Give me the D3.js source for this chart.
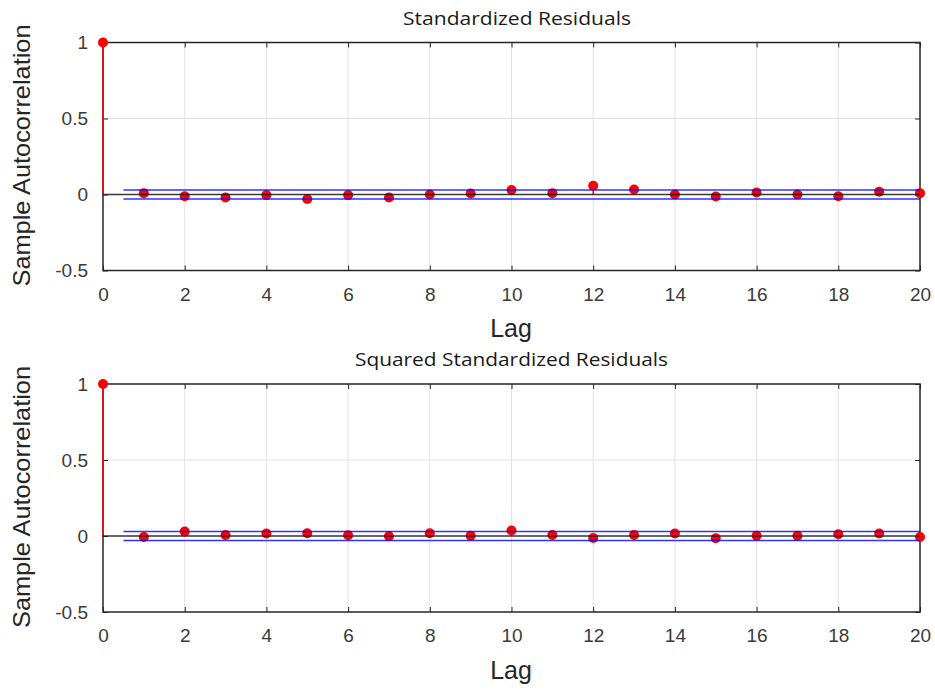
<!DOCTYPE html>
<html>
<head>
<meta charset="utf-8">
<script src="https://cdn.jsdelivr.net/npm/d3@7"></script>
<style>
  body { margin: 0; background: #fff; }
</style>
</head>
<body>
<div id="chart"></div>
<script>
// sample autocorrelation values, lag 0..20
const lags = d3.range(0, 21);
const acfResiduals = [1, 0.009, -0.011, -0.02, -0.004, -0.03, -0.004, -0.02, 0.0, 0.007,
  0.03, 0.009, 0.057, 0.033, 0.0, -0.013, 0.013, 0.0, -0.011, 0.018, 0.009];
const acfSquared = [1, -0.007, 0.029, 0.007, 0.016, 0.018, 0.005, -0.002, 0.018, 0.002,
  0.036, 0.007, -0.013, 0.007, 0.016, -0.015, 0.002, 0.002, 0.011, 0.016, -0.007];
const bounds = [0.03, 0.029];
const titles = ["Standardized Residuals", "Squared Standardized Residuals"];
const xTicks = d3.range(0, 21, 2);
const yTicks = [-0.5, 0, 0.5, 1];

const W = 935, H = 690;
const svg = d3.select("#chart").append("svg").attr("width", W).attr("height", H);
const arial = "Liberation Sans, Arial, sans-serif";

function acfPanel(values, bound, title, top, titleX, titleLen) {
  const dims = {l: 103, r: 920, t: top, b: top + 228};
  const x = d3.scaleLinear().domain([0, 20]).range([dims.l, dims.r]);
  const y = d3.scaleLinear().domain([-0.5, 1]).range([dims.b, dims.t]);
  const g = svg.append("g");

  // grid
  g.append("g").selectAll("line").data(xTicks.slice(1, -1)).enter().append("line")
    .attr("x1", d => x(d)).attr("x2", d => x(d))
    .attr("y1", dims.t).attr("y2", dims.b)
    .attr("stroke", "#e3e3e3").attr("stroke-width", 1);
  g.append("g").selectAll("line").data(yTicks.slice(1, -1)).enter().append("line")
    .attr("x1", dims.l).attr("x2", dims.r)
    .attr("y1", d => y(d)).attr("y2", d => y(d))
    .attr("stroke", "#e3e3e3").attr("stroke-width", 1);

  // axes, ticks inside the box
  const fmt = d => String(d);
  g.append("g").attr("transform", "translate(0," + dims.b + ")")
    .call(d3.axisBottom(x).tickValues(xTicks).tickSizeInner(-5).tickSizeOuter(0).tickPadding(17).tickFormat(fmt))
    .call(a => a.select(".domain").remove());
  g.append("g").attr("transform", "translate(0," + dims.t + ")")
    .call(d3.axisTop(x).tickValues(xTicks).tickSizeInner(-5).tickSizeOuter(0).tickFormat(""))
    .call(a => a.select(".domain").remove());
  g.append("g").attr("transform", "translate(" + dims.l + ",0)")
    .call(d3.axisLeft(y).tickValues(yTicks).tickSizeInner(-5).tickSizeOuter(0).tickPadding(15).tickFormat(fmt))
    .call(a => a.select(".domain").remove());
  g.append("g").attr("transform", "translate(" + dims.r + ",0)")
    .call(d3.axisRight(y).tickValues(yTicks).tickSizeInner(-5).tickSizeOuter(0).tickFormat(""))
    .call(a => a.select(".domain").remove());
  g.selectAll(".tick line").attr("stroke", "#262626");
  g.selectAll(".tick text").attr("font-family", arial)
    .attr("font-size", 19).attr("fill", "#3a3a3a");

  // box
  g.append("rect").attr("x", dims.l).attr("y", dims.t)
    .attr("width", dims.r - dims.l).attr("height", dims.b - dims.t)
    .attr("fill", "none").attr("stroke", "#262626").attr("stroke-width", 1.5);

  // stems + markers
  g.append("g").selectAll("line").data(lags).enter().append("line")
    .attr("x1", d => x(d)).attr("x2", d => x(d))
    .attr("y1", y(0)).attr("y2", (d, i) => y(values[i]))
    .attr("stroke", "#ff0000").attr("stroke-width", 1.5);
  g.append("g").selectAll("circle").data(lags).enter().append("circle")
    .attr("cx", d => x(d)).attr("cy", (d, i) => y(values[i]))
    .attr("r", 5).attr("fill", "#ff0000");

  // zero line and confidence bounds drawn over the markers
  g.append("line").attr("x1", dims.l).attr("x2", dims.r)
    .attr("y1", y(0)).attr("y2", y(0))
    .attr("stroke", "#1a1a1a").attr("stroke-width", 1.5).attr("stroke-opacity", 0.85);
  g.append("g").selectAll("line").data([bound, -bound]).enter().append("line")
    .attr("x1", x(0.5)).attr("x2", dims.r)
    .attr("y1", d => y(d)).attr("y2", d => y(d))
    .attr("stroke", "#0000ff").attr("stroke-width", 1.5).attr("stroke-opacity", 0.8);

  // labels
  g.append("text").attr("x", titleX).attr("y", dims.t - 18).attr("text-anchor", "middle")
    .attr("font-family", "Open Sans, Noto Sans, sans-serif").attr("font-size", 19)
    .attr("textLength", titleLen).attr("lengthAdjust", "spacingAndGlyphs")
    .attr("fill", "#1a1a1a").text(title);
  g.append("text").attr("x", 511).attr("y", dims.b + 66.5).attr("text-anchor", "middle")
    .attr("font-family", arial).attr("font-size", 25)
    .attr("fill", "#262626").text("Lag");
  g.append("text").attr("transform", "translate(30," + ((dims.t + dims.b) / 2 - 1) + ") rotate(-90)")
    .attr("text-anchor", "middle")
    .attr("font-family", arial).attr("font-size", 24)
    .attr("textLength", 262).attr("lengthAdjust", "spacingAndGlyphs")
    .attr("fill", "#262626").text("Sample Autocorrelation");
}

acfPanel(acfResiduals, bounds[0], titles[0], 42.5, 517, 228);
acfPanel(acfSquared, bounds[1], titles[1], 384, 511.5, 313);
</script>
</body>
</html>
